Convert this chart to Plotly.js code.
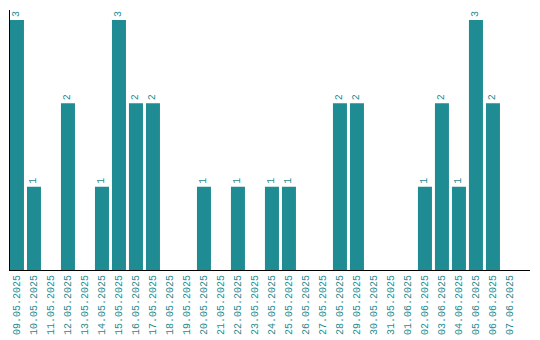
<!DOCTYPE html>
<html>
<head>
<meta charset="utf-8">
<script src="https://cdn.plot.ly/plotly-3.0.1.min.js"></script>
<style>html,body{margin:0;padding:0;background:#fff;}#chart{width:540px;height:340px;}</style>
</head>
<body>
<div id="chart"></div>
<script>
const dates = ["09.05.2025","10.05.2025","11.05.2025","12.05.2025","13.05.2025","14.05.2025","15.05.2025","16.05.2025","17.05.2025","18.05.2025","19.05.2025","20.05.2025","21.05.2025","22.05.2025","23.05.2025","24.05.2025","25.05.2025","26.05.2025","27.05.2025","28.05.2025","29.05.2025","30.05.2025","31.05.2025","01.06.2025","02.06.2025","03.06.2025","04.06.2025","05.06.2025","06.06.2025","07.06.2025"];
const counts = [3,1,0,2,0,1,3,2,2,0,0,1,0,1,0,1,1,0,0,2,2,0,0,0,1,2,1,3,2,0];
const teal = "#1f8b92";
const trace = {
  type: "bar",
  x: dates,
  y: counts,
  marker: {color: teal},
  text: counts.map(v => v > 0 ? String(v) : ""),
  textposition: "outside",
  textangle: -90,
  textfont: {family: "Liberation Mono", size: 10, color: teal},
  cliponaxis: false,
  hoverinfo: "none"
};
const layout = {
  width: 540, height: 340,
  margin: {l: 10, r: 10, t: 10, b: 70},
  paper_bgcolor: "#fff", plot_bgcolor: "#fff",
  bargap: 0.176,
  showlegend: false,
  xaxis: {
    type: "category",
    range: [-0.41, 30.18],
    showline: true, linecolor: "#000", linewidth: 1,
    showgrid: false, zeroline: false,
    ticks: "", tickangle: -90,
    tickfont: {family: "Liberation Mono", size: 10, color: teal},
    fixedrange: true
  },
  yaxis: {
    range: [0, 3.12],
    showline: true, linecolor: "#000", linewidth: 1,
    showgrid: false, zeroline: false,
    showticklabels: false, ticks: "",
    fixedrange: true
  }
};
Plotly.newPlot("chart", [trace], layout, {staticPlot: true, displayModeBar: false});
</script>
</body>
</html>
